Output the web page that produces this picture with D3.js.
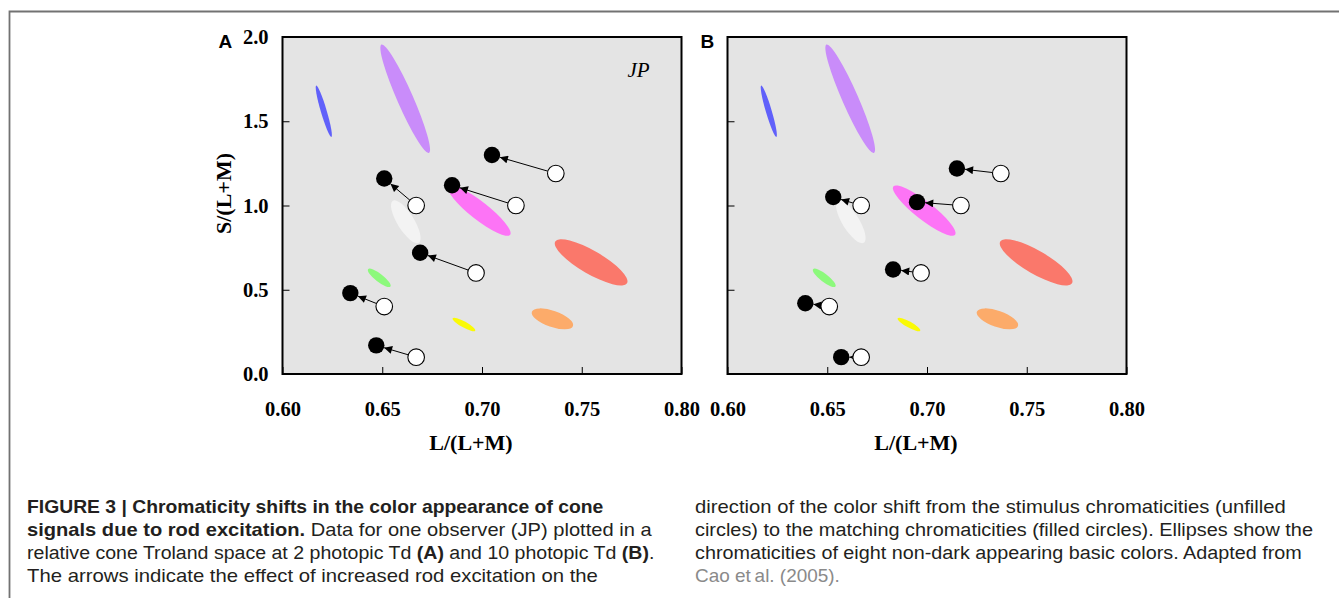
<!DOCTYPE html>
<html>
<head>
<meta charset="utf-8">
<script src="https://cdn.jsdelivr.net/npm/d3@7"></script>
<style>
body{margin:0;background:#fff;}
svg{display:block;}
</style>
</head>
<body>
<svg id="fig" width="1339" height="598"></svg>
<script>
var xTicks = [0.60, 0.65, 0.70, 0.75, 0.80];
var yTicks = [0.0, 0.5, 1.0, 1.5, 2.0];

// stimulus chromaticities (open circles), same for both panels
var stimL = [0.737, 0.667, 0.717, 0.697, 0.651, 0.667];
var stimS = [1.19, 1.00, 1.00, 0.60, 0.40, 0.10];
// matching chromaticities, 2 Td (A)
var matchAL = [0.705, 0.651, 0.685, 0.669, 0.634, 0.647];
var matchAS = [1.30, 1.16, 1.12, 0.72, 0.48, 0.17];
// matching chromaticities, 10 Td (B)
var matchBL = [0.715, 0.653, 0.695, 0.683, 0.639, 0.657];
var matchBS = [1.22, 1.05, 1.02, 0.62, 0.42, 0.10];

// basic colour ellipses: both ends of the long axis + short/long ratio
var ellNames  = ['blue', 'purple', 'pink', 'white', 'red', 'green', 'orange', 'yellow'];
var ellColors = ['#6060fa', '#c98cfa', '#fd74f6', '#f3f3f3', '#fa786b', '#8cf97c', '#fcab6a', '#fafa05'];
var ellL1 = [0.6169, 0.6496, 0.6831, 0.6553, 0.7367, 0.6429, 0.7250, 0.6853];
var ellS1 = [1.712, 1.955, 1.113, 1.028, 0.786, 0.622, 0.370, 0.331];
var ellL2 = [0.6245, 0.6734, 0.7141, 0.6683, 0.7727, 0.6541, 0.7456, 0.6966];
var ellS2 = [1.407, 1.312, 0.826, 0.779, 0.539, 0.519, 0.285, 0.257];
var ellRatio = [0.11, 0.135, 0.23, 0.34, 0.28, 0.28, 0.37, 0.23];

var svg = d3.select('#fig');
var W = 399, H = 337;
var serif = 'Liberation Serif, Times New Roman, serif';

// frame round the figure
svg.append('path')
	.attr('d', 'M9.5,598V11.5H1339')
	.attr('fill', 'none')
	.attr('stroke', '#727272')
	.attr('stroke-width', 1.8);

svg.append('defs').append('marker')
	.attr('id', 'head')
	.attr('viewBox', '0 0 10 10')
	.attr('refX', 10).attr('refY', 5)
	.attr('markerUnits', 'userSpaceOnUse')
	.attr('markerWidth', 10).attr('markerHeight', 8)
	.attr('orient', 'auto')
	.append('path').attr('d', 'M0,0L10,5L0,10z').attr('fill', 'black');

function drawPanel(left, top, mL, mS, letter, showY, showJP) {
	var g = svg.append('g').attr('transform', 'translate(' + left + ',' + top + ')');
	var x = d3.scaleLinear().domain([0.6, 0.8]).range([0, W]);
	var y = d3.scaleLinear().domain([0, 2]).range([H, 0]);

	g.append('rect').attr('width', W).attr('height', H).attr('fill', '#e4e4e4');

	var ell = ellNames.map(function (n, i) {
		var x1 = x(ellL1[i]), y1 = y(ellS1[i]), x2 = x(ellL2[i]), y2 = y(ellS2[i]);
		var a = Math.hypot(x2 - x1, y2 - y1) / 2;
		return {cx: (x1 + x2) / 2, cy: (y1 + y2) / 2, rx: a, ry: a * ellRatio[i],
			ang: Math.atan2(y2 - y1, x2 - x1) * 180 / Math.PI, col: ellColors[i]};
	});
	g.selectAll('.ell').data(ell).enter()
		.append('ellipse')
		.attr('class', 'ell')
		.attr('cx', function (d) {return d.cx;})
		.attr('cy', function (d) {return d.cy;})
		.attr('rx', function (d) {return d.rx;})
		.attr('ry', function (d) {return d.ry;})
		.attr('transform', function (d) {return 'rotate(' + d.ang + ',' + d.cx + ',' + d.cy + ')';})
		.attr('fill', function (d) {return d.col;});

	var rO = 8.3, rF = 8.2;
	var pts = stimL.map(function (v, i) {
		var ox = x(v), oy = y(stimS[i]), fx = x(mL[i]), fy = y(mS[i]);
		var len = Math.hypot(fx - ox, fy - oy), ux = (fx - ox) / len, uy = (fy - oy) / len;
		return {ox: ox, oy: oy, fx: fx, fy: fy,
			x1: ox + ux * rO, y1: oy + uy * rO, x2: fx - ux * rF, y2: fy - uy * rF};
	});

	g.selectAll('.arr').data(pts).enter()
		.append('line')
		.attr('class', 'arr')
		.attr('x1', function (d) {return d.x1;})
		.attr('y1', function (d) {return d.y1;})
		.attr('x2', function (d) {return d.x2;})
		.attr('y2', function (d) {return d.y2;})
		.attr('stroke', 'black')
		.attr('stroke-width', 1)
		.attr('marker-end', 'url(#head)');

	g.selectAll('.open').data(pts).enter()
		.append('circle')
		.attr('class', 'open')
		.attr('cx', function (d) {return d.ox;})
		.attr('cy', function (d) {return d.oy;})
		.attr('r', rO)
		.attr('fill', 'white')
		.attr('stroke', 'black')
		.attr('stroke-width', 1.1);

	g.selectAll('.fill').data(pts).enter()
		.append('circle')
		.attr('class', 'fill')
		.attr('cx', function (d) {return d.fx;})
		.attr('cy', function (d) {return d.fy;})
		.attr('r', rF)
		.attr('fill', 'black');

	var xa = g.append('g').attr('transform', 'translate(0,' + H + ')')
		.call(d3.axisBottom(x).tickValues(xTicks).tickFormat(d3.format('.2f'))
			.tickSizeInner(-7).tickSizeOuter(0).tickPadding(27));
	var ya = g.append('g')
		.call(d3.axisLeft(y).tickValues(yTicks)
			.tickFormat(showY ? d3.format('.1f') : function () {return '';})
			.tickSizeInner(-7).tickSizeOuter(0).tickPadding(14));
	[xa, ya].forEach(function (a) {
		a.select('.domain').remove();
		a.selectAll('line').attr('stroke', 'black');
		a.selectAll('text')
			.attr('fill', 'black')
			.style('font-family', serif)
			.style('font-weight', 'bold')
			.style('font-size', '20.5px');
	});

	g.append('rect').attr('width', W).attr('height', H)
		.attr('fill', 'none').attr('stroke', 'black').attr('stroke-width', 2);

	g.append('text')
		.attr('x', W / 2 - 11).attr('y', H + 76)
		.attr('text-anchor', 'middle')
		.style('font-family', serif).style('font-weight', 'bold').style('font-size', '22px')
		.text('L/(L+M)');

	if (showY) {
		g.append('text')
			.attr('transform', 'translate(-52,' + (H / 2 - 12) + ') rotate(-90)')
			.attr('text-anchor', 'middle')
			.style('font-family', serif).style('font-weight', 'bold').style('font-size', '22px')
			.text('S/(L+M)');
	}
	if (showJP) {
		g.append('text')
			.attr('x', 345).attr('y', 40)
			.style('font-family', serif).style('font-style', 'italic').style('font-size', '21px')
			.text('JP');
	}
	svg.append('text')
		.attr('x', showY ? left - 64 : left - 27).attr('y', top + 11)
		.style('font-family', 'Liberation Sans, Arial, sans-serif')
		.style('font-weight', 'bold').style('font-size', '19px')
		.text(letter);
}

drawPanel(282.5, 37, matchAL, matchAS, 'A', true, true);
drawPanel(727.5, 37, matchBL, matchBS, 'B', false, false);

// caption, one entry per printed line: [x, baseline, width, segments]
var capLines = [
	[27, 512.5, 577, [['FIGURE 3 | Chromaticity shifts in the color appearance of cone', 'b']]],
	[27, 535.5, 625, [['signals due to rod excitation.', 'b'], [' Data for one observer (JP) plotted in a', 'n']]],
	[27, 558.5, 628, [['relative cone Troland space at 2 photopic Td ', 'n'], ['(A)', 'b'], [' and 10 photopic Td ', 'n'], ['(B)', 'b'], ['.', 'n']]],
	[27, 581.5, 571, [['The arrows indicate the effect of increased rod excitation on the', 'n']]],
	[695, 512.5, 591, [['direction of the color shift from the stimulus chromaticities (unfilled', 'n']]],
	[695, 535.5, 618, [['circles) to the matching chromaticities (filled circles). Ellipses show the', 'n']]],
	[695, 558.5, 607, [['chromaticities of eight non-dark appearing basic colors. Adapted from', 'n']]],
	[695, 581.5, 145, [['Cao et\u2009al. (2005).', 'g']]]
];

capLines.forEach(function (ln) {
	var t = svg.append('text')
		.attr('x', 0).attr('y', 0)
		.style('font-family', 'Liberation Sans, Arial, sans-serif')
		.style('font-size', '18px')
		.attr('fill', '#231f20');
	ln[3].forEach(function (s) {
		t.append('tspan')
			.attr('font-weight', s[1] == 'b' ? 'bold' : 'normal')
			.attr('fill', s[1] == 'g' ? '#8a8a8a' : '#231f20')
			.text(s[0]);
	});
	var len = t.node().getComputedTextLength();
	t.attr('transform', 'translate(' + ln[0] + ',' + ln[1] + ') scale(' + (ln[2] / len) + ',1)');
});
</script>
</body>
</html>
